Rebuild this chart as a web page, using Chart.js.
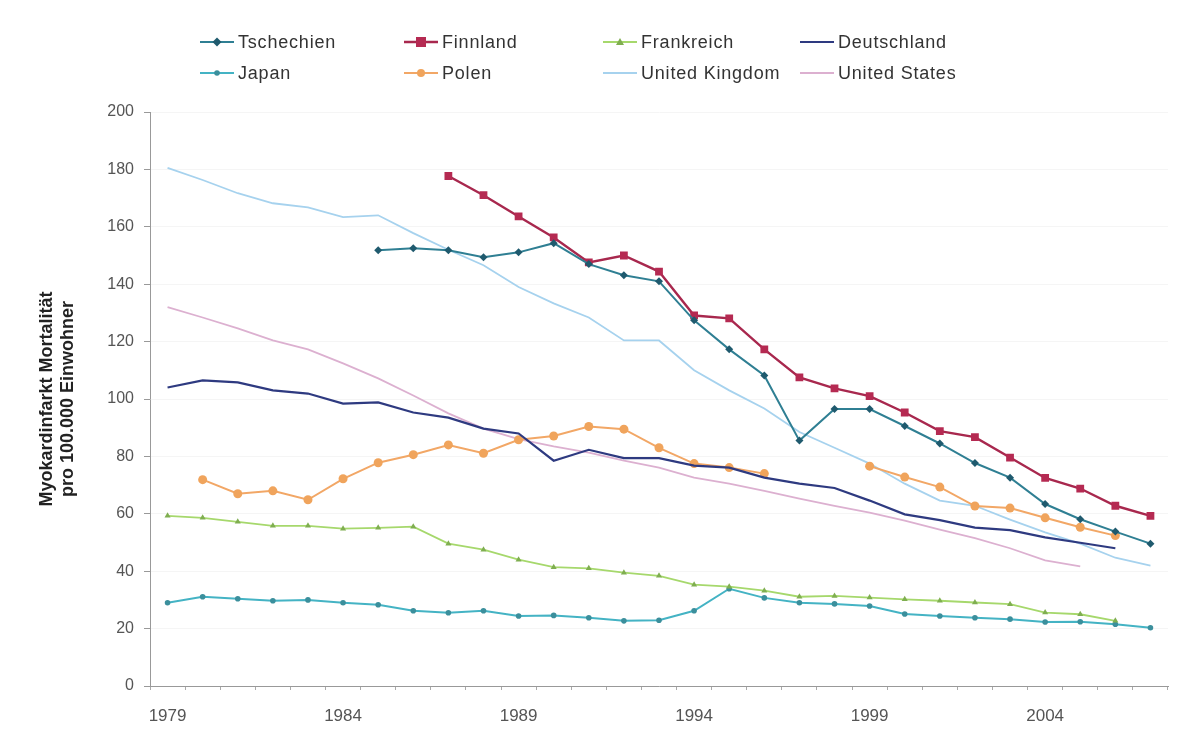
<!DOCTYPE html>
<html><head><meta charset="utf-8">
<script src="https://cdn.jsdelivr.net/npm/chart.js@4.4.1/dist/chart.umd.min.js"></script>
<style>
html,body{margin:0;padding:0;background:#fff;}
#wrap{position:relative;width:1190px;height:735px;overflow:hidden;}
#c{position:absolute;left:0;top:0;}
#legend{position:absolute;left:0;top:0;width:1190px;height:100px;font-family:"Liberation Sans",Arial,sans-serif;font-size:18px;letter-spacing:0.8px;color:#333;}
.item{position:absolute;display:flex;align-items:center;white-space:nowrap;height:20px;}
.item svg{margin-right:4px;}
</style></head><body>
<div id="wrap"><canvas id="c" width="1190" height="735"></canvas><div id="legend"></div></div>
<script>
const years = ['1979','1980','1981','1982','1983','1984','1985','1986','1987','1988','1989','1990','1991','1992','1993','1994','1995','1996','1997','1998','1999','2000','2001','2002','2003','2004','2005','2006','2007'];
const tickYears = ['1979','1984','1989','1994','1999','2004'];
const yTicks = [0,20,40,60,80,100,120,140,160,180,200];

const tschechien = [null,null,null,null,null,null,151.8,152.5,151.8,149.4,151.1,154.3,147,143.1,141,127.4,117.3,108.2,85.5,96.5,96.5,90.6,84.5,77.7,72.6,63.4,58.1,53.8,49.6];
const finnland   = [null,null,null,null,null,null,null,null,177.7,171,163.6,156.3,147.6,150,144.4,129.1,128.1,117.3,107.5,103.7,101,95.3,88.8,86.7,79.6,72.5,68.8,62.8,59.3];
const frankreich = [59.3,58.6,57.2,55.8,55.8,54.8,55.1,55.5,49.6,47.5,44,41.4,41,39.5,38.4,35.3,34.6,33.2,31.1,31.4,30.8,30.2,29.7,29.1,28.5,25.6,25,22.7,null];
const deutschland= [104,106.5,105.8,103,101.9,98.4,98.8,95.3,93.5,89.7,88,78.5,82.3,79.4,79.4,76.8,76.1,72.6,70.5,69,64.6,59.8,57.8,55.2,54.3,51.8,49.9,48,null];
const japan      = [29,31.1,30.4,29.7,30,29,28.3,26.2,25.5,26.2,24.4,24.6,23.8,22.7,22.9,26.2,33.9,30.7,29,28.6,27.9,25.1,24.4,23.8,23.3,22.3,22.4,21.5,20.3];
const polen      = [null,71.9,67,68,64.9,72.2,77.8,80.6,84,81.1,85.8,87.1,90.4,89.5,83,77.5,76.1,74,null,null,76.6,72.8,69.3,62.7,62,58.6,55.3,52.4,null];
const unitedKingdom = [180.5,176.3,171.7,168.2,166.8,163.4,164,157.8,152,146.6,139,133.3,128.4,120.4,120.4,110,103,96.7,88.5,83,77.5,70.5,64.6,62.8,58,53.5,49.6,44.7,41.9];
const unitedStates  = [132,128.4,124.6,120.4,117.3,112.4,107.2,101.2,95,89.7,86,83.5,81.3,78.5,76.1,72.6,70.5,68,65.3,62.8,60.4,57.6,54.5,51.5,48,43.8,41.7,null,null];

const FONT = '"Liberation Sans", Arial, sans-serif';

const series = [
  {label:'Tschechien', data:tschechien, line:'#2f7f93', marker:'#1f5a6e', style:'rectRot', r:4, w:2},
  {label:'Finnland', data:finnland, line:'#a8284e', marker:'#b52a52', style:'rect', r:5.5, w:2.4},
  {label:'Frankreich', data:frankreich, line:'#a6d86c', marker:'#7fae50', style:'triangle', r:3.5, w:1.8},
  {label:'Deutschland', data:deutschland, line:'#2e3a80', marker:'#2e3a80', style:false, r:0, w:2.2},
  {label:'Japan', data:japan, line:'#44b3c4', marker:'#3b8f9c', style:'circle', r:2.8, w:2},
  {label:'Polen', data:polen, line:'#f2a766', marker:'#f0a45c', style:'circle', r:4.5, w:2},
  {label:'United Kingdom', data:unitedKingdom, line:'#a6d2ee', marker:'#a6d2ee', style:false, r:0, w:1.8},
  {label:'United States', data:unitedStates, line:'#dcb0d0', marker:'#dcb0d0', style:false, r:0, w:1.8}
];

const legendPos = [[200,42],[404,42],[603,42],[800,42],[200,73],[404,73],[603,73],[800,73]];

const legend = document.getElementById('legend');
series.forEach((s,i)=>{
  const d = document.createElement('div');
  d.className='item';
  d.style.left = legendPos[i][0]+'px';
  d.style.top = (legendPos[i][1]-10)+'px';
  let m = '';
  const cx=17, cy=10;
  if(s.style==='rect') m = `<rect x="${cx-5}" y="${cy-5}" width="10" height="10" fill="${s.marker}"/>`;
  else if(s.style==='rectRot') m = `<polygon points="${cx},${cy-4.5} ${cx+4.5},${cy} ${cx},${cy+4.5} ${cx-4.5},${cy}" fill="${s.marker}"/>`;
  else if(s.style==='triangle') m = `<polygon points="${cx},${cy-4} ${cx+4},${cy+3} ${cx-4},${cy+3}" fill="${s.marker}"/>`;
  else if(s.style==='circle') m = `<circle cx="${cx}" cy="${cy}" r="${Math.min(s.r,4)}" fill="${s.marker}"/>`;
  d.innerHTML = `<svg width="34" height="20"><line x1="0" y1="${cy}" x2="34" y2="${cy}" stroke="${s.line}" stroke-width="${s.w}"/>${m}</svg><span>${s.label}</span>`;
  legend.appendChild(d);
});

new Chart(document.getElementById('c'), {
  type:'line',
  data:{
    labels:years,
    datasets: series.map(s=>({
      label:s.label, data:s.data,
      borderColor:s.line, backgroundColor:s.marker,
      borderWidth:s.w, pointStyle:s.style||'circle',
      pointRadius:s.r, pointBackgroundColor:s.marker, pointBorderColor:s.marker, pointBorderWidth:0,
      tension:0, spanGaps:false, fill:false
    }))
  },
  options:{
    responsive:false, animation:false, devicePixelRatio:1,
    layout:{padding:{top:112,right:22,left:0,bottom:0}},
    plugins:{legend:{display:false}, tooltip:{enabled:false}},
    scales:{
      x:{
        type:'category', offset:true,
        grid:{display:true, drawOnChartArea:false, offset:true, color:'#aaa', tickLength:4},
        border:{color:'#999'},
        ticks:{autoSkip:false, maxRotation:0, color:'#555', padding:16, font:{size:17,family:FONT},
          callback:function(v){const l=this.getLabelForValue(v); return tickYears.includes(l)?l:'';}},
        afterFit:s=>{s.height=49;}
      },
      y:{
        min:0, max:200,
        afterBuildTicks:s=>{s.ticks = yTicks.map(v=>({value:v}));},
        grid:{display:true, drawOnChartArea:true, color:'#f5f5f5', tickColor:'#999', tickLength:6},
        border:{color:'#999'},
        ticks:{color:'#555', padding:10, font:{size:16,family:FONT}},
        title:{display:true, text:['Myokardinfarkt Mortalität','pro 100.000 Einwohner'], color:'#222',
          font:{size:18,weight:'bold',family:FONT}, padding:{top:36,bottom:0}},
        afterFit:s=>{s.width=150;}
      }
    }
  }
});
</script>
</body></html>
